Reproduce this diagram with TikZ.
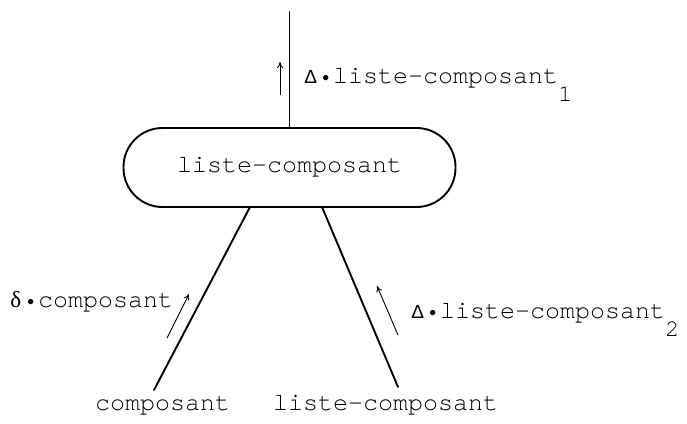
\documentclass[tikz,border=0pt]{standalone}
\usepackage{fontspec}
\usepackage{graphicx}
\newfontfamily\mono{TeX Gyre Cursor}
\newfontfamily\gk{Liberation Serif}
\newfontfamily\gks{Liberation Sans}
\usetikzlibrary{arrows.meta}
\tikzset{
  mainline/.style={line width=1.9pt, line cap=round},
  flow/.style={line width=0.9pt, -{To[length=6pt,width=6pt]}},
  lbl/.style={inner sep=0pt, anchor=base west, font=\mono\fontsize{25}{25}\selectfont},
  nt/.style={draw, line width=1.9pt, rectangle, rounded corners=39pt, minimum width=332pt, minimum height=79pt, inner sep=0pt, font=\mono\fontsize{25}{25}\selectfont}
}
\newcommand{\subdn}[1]{\raisebox{-18pt}{\fontsize{24}{24}\selectfont #1}}
\newcommand{\bul}{\makebox[15pt]{\raisebox{1.5pt}{\scalebox{0.55}{$\bullet$}}}}
\newcommand{\GD}{\makebox[15pt]{\fontsize{19}{19}\gks Δ}}
\newcommand{\gd}{\makebox[15pt]{\fontsize{23}{23}\gk δ}}
\begin{document}
\begin{tikzpicture}[x=1pt,y=-1pt]
\useasboundingbox (0,0) rectangle (687,423);
% central node
\node[nt] (lc) at (289.5,167.5) {liste-composant};
% top connector
\coordinate (top) at (289.5,12);
\draw[mainline] (lc.north) -- (top);
\coordinate (ta1) at (280,95);
\coordinate (ta2) at (280,62);
\draw[flow] (ta1) -- (ta2);
\node[lbl] (tl) at (303,83) {\GD\bul liste-composant\subdn{1}};
% left branch
\coordinate (ls) at (250,207);
\coordinate (le) at (154,390);
\draw[mainline] (ls) -- (le);
\coordinate (la1) at (167,338);
\coordinate (la2) at (189,294);
\draw[flow] (la1) -- (la2);
\node[lbl] (ll) at (8,307) {\gd\bul composant};
\node[lbl] (bl) at (95,410) {composant};
% right branch
\coordinate (rs) at (322,207);
\coordinate (re) at (398,387);
\draw[mainline] (rs) -- (re);
\coordinate (ra1) at (398,335);
\coordinate (ra2) at (377,286);
\draw[flow] (ra1) -- (ra2);
\node[lbl] (rl) at (410,318) {\GD\bul liste-composant\subdn{2}};
\node[lbl] (br) at (273,410) {liste-composant};
\end{tikzpicture}
\end{document}
